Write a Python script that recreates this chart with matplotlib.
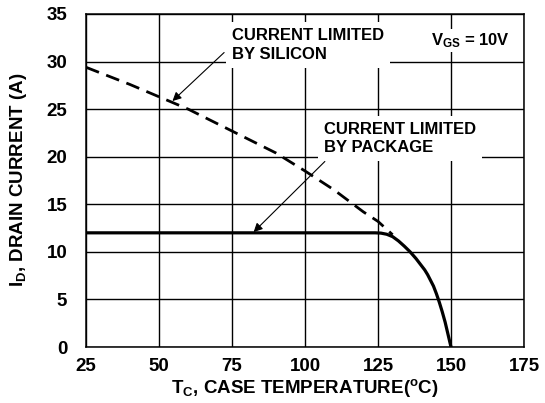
import numpy as np
import matplotlib
matplotlib.use('Agg')
import matplotlib.pyplot as plt

# values
temp_si = [25, 40, 50, 60, 75, 90, 100, 110, 120, 125, 130]
curr_si = [29.4, 27.6, 26.3, 25.0, 22.7, 20.4, 18.5, 16.5, 14.2, 13.2, 11.8]

temp_pkg = [25, 100, 124, 126, 128, 130, 132, 134, 136, 138, 140, 141, 142, 143, 144, 145, 146, 147, 148, 149, 150]
curr_pkg = [12, 12, 12, 11.97, 11.85, 11.6, 11.15, 10.6, 10.0, 9.3, 8.5, 8.1, 7.6, 7.0, 6.4, 5.6, 4.7, 3.7, 2.6, 1.3, 0]

xticks = [25, 50, 75, 100, 125, 150, 175]
yticks = [0, 5, 10, 15, 20, 25, 30, 35]

plt.rcParams['font.family'] = ['Liberation Sans', 'DejaVu Sans']
plt.rcParams['font.weight'] = 'bold'
plt.rcParams['mathtext.fontset'] = 'custom'
plt.rcParams['mathtext.rm'] = 'Liberation Sans:bold'
plt.rcParams['mathtext.it'] = 'Liberation Sans:bold'
plt.rcParams['mathtext.bf'] = 'Liberation Sans:bold'

fig = plt.figure(figsize=(5.45, 4.03), dpi=100)
ax = fig.add_axes([86/545, 1 - 347/403, 438/545, 333/403])

ax.set_xlim(25, 175)
ax.set_ylim(0, 35)
ax.set_xticks(xticks)
ax.set_yticks(yticks)
ax.tick_params(axis='both', length=0, labelsize=13.5)
ax.tick_params(axis='x', pad=8)
ax.tick_params(axis='y', pad=13.5)
for lab in ax.get_xticklabels() + ax.get_yticklabels():
    lab.set_fontweight('bold')
ax.set_axisbelow(True)
ax.grid(True, color='black', lw=1.0)
for sp in ax.spines.values():
    sp.set_linewidth(1.1)

# curves
ax.plot(temp_si, curr_si, color='black', lw=2.0, dashes=(5, 2.8), zorder=4)
ax.plot(temp_pkg, curr_pkg, color='black', lw=2.3, zorder=4, solid_joinstyle='round')

box = dict(boxstyle='square,pad=0.35', facecolor='white', edgecolor='none')
ax.text(75, 31.75, 'CURRENT LIMITED\nBY SILICON', fontsize=12, fontweight='bold',
        ha='left', va='center', linespacing=1.3, bbox=box, zorder=3)
ax.text(106.5, 21.9, 'CURRENT LIMITED\nBY PACKAGE', fontsize=12, fontweight='bold',
        ha='left', va='center', linespacing=1.3, bbox=box, zorder=3)
ax.text(156.8, 32.2, r'V$_{GS}$ = 10V', fontsize=12, fontweight='bold',
        ha='center', va='center',
        bbox=dict(boxstyle='square,pad=0.15', facecolor='white', edgecolor='none'), zorder=3)

arrow = dict(arrowstyle='-|>', color='black', lw=0.8, mutation_scale=13, shrinkA=0, shrinkB=0)
ax.annotate('', xy=(54.6, 25.85), xytext=(72.3, 30.95), arrowprops=arrow, zorder=5)
ax.annotate('', xy=(82.4, 12.08), xytext=(106.8, 19.5), arrowprops=arrow, zorder=5)

fig.text(19/545, 1 - 180/403, r'I$_D$, DRAIN CURRENT (A)', rotation=90,
         ha='center', va='center', fontsize=13.5, fontweight='bold')
fig.text(305/545, 1 - 388/403, r'T$_C$, CASE TEMPERATURE($^o$C)',
         ha='center', va='center', fontsize=13.5, fontweight='bold')

fig.savefig('out.png', dpi=100)
